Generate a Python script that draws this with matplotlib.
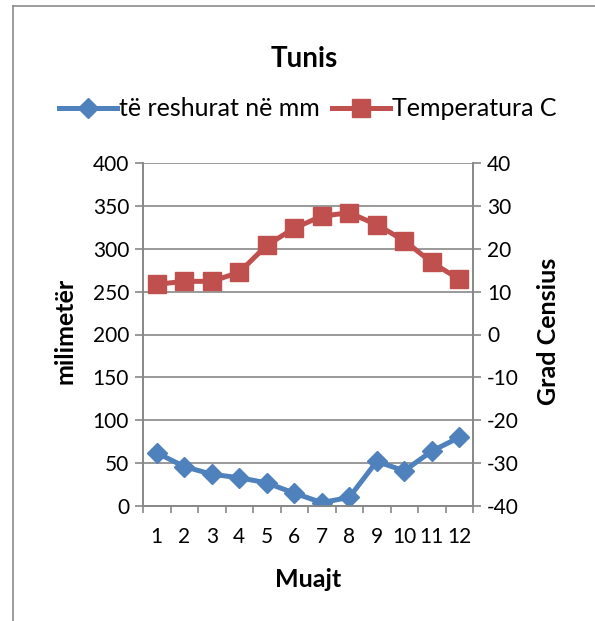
import matplotlib
matplotlib.use("Agg")
import matplotlib.pyplot as plt
from matplotlib.lines import Line2D

plt.rcParams["font.family"] = ["Lato", "DejaVu Sans"]
plt.rcParams["axes.unicode_minus"] = False

months = [str(m) for m in range(1, 13)]
precip_mm = [62, 46, 37, 33, 27, 15, 4, 10, 52, 41, 64, 80]
temp_c = [11.7, 12.4, 12.4, 14.5, 20.8, 24.8, 27.6, 28.4, 25.6, 21.9, 16.8, 12.9]

BLUE = "#4F81BD"
RED = "#C0504D"
GRID = "#888888"
W, H = 595, 621


def fx(px):
    return px / W


def fy(py):
    return 1 - py / H


fig = plt.figure(figsize=(W / 100, H / 100), dpi=100)
ax = fig.add_axes([fx(143), fy(506), 330 / W, 343 / H])
ax2 = ax.twinx()

x = [i + 0.5 for i in range(len(months))]
ax.plot(x, precip_mm, color=BLUE, lw=3.6, marker="D", ms=10.5, zorder=3)
ax2.plot(x, temp_c, color=RED, lw=3.6, marker="s", ms=13.5, zorder=3)

ax.set_xlim(0, 12)
ax.set_ylim(0, 400)
ax.set_yticks(range(0, 401, 50))
ax2.set_ylim(-40, 40)
ax2.set_yticks(range(-40, 41, 10))

ax.set_xticks(range(13))
ax.set_xticklabels([])
ax.set_xticks(x, minor=True)
ax.set_xticklabels(months, minor=True)
ax.tick_params(axis="x", which="minor", length=0, pad=15, labelsize=15)
ax.tick_params(axis="x", which="major", length=5, color=GRID, width=1.2)
ax.tick_params(axis="y", length=6, color=GRID, width=1.2, labelsize=15, pad=4)
ax2.tick_params(axis="y", length=6, color=GRID, width=1.2, labelsize=15, pad=4)

ax.grid(axis="y", color=GRID, lw=1.2)
ax.set_axisbelow(True)
for a in (ax, ax2):
    a.spines["top"].set_visible(False)
    for s in ("left", "right", "bottom"):
        a.spines[s].set_color(GRID)
        a.spines[s].set_linewidth(1.2)

# titles placed at the reference pixel positions
fig.text(fx(304), fy(67), "Tunis", ha="center", va="baseline",
         fontsize=20, fontweight="bold")
fig.text(fx(308), fy(587), "Muajt", ha="center", va="baseline",
         fontsize=18, fontweight="bold")
fig.text(fx(72), fy(331), "milimetër", ha="center", va="baseline",
         rotation=90, rotation_mode="anchor", fontsize=18, fontweight="bold")
fig.text(fx(556), fy(331), "Grad Censius", ha="center", va="baseline",
         rotation=90, rotation_mode="anchor", fontsize=18, fontweight="bold")

handles = [
    Line2D([], [], color=BLUE, lw=3.6, marker="D", ms=10.5),
    Line2D([], [], color=RED, lw=3.6, marker="s", ms=13.5),
]
fig.legend(handles, ["të reshurat në mm", "Temperatura C"], loc="center",
           bbox_to_anchor=(fx(308), fy(109)), ncol=2, frameon=False,
           fontsize=18, handlelength=2.3, handletextpad=0.1, columnspacing=0.5,
           borderpad=0, borderaxespad=0)

# outer chart frame (cut off at right and bottom)
fig.add_artist(Line2D([fx(13), fx(13)], [0, fy(6)],
                      transform=fig.transFigure, color="#8c8c8c", lw=1.2))
fig.add_artist(Line2D([fx(13), 1], [fy(6), fy(6)],
                      transform=fig.transFigure, color="#8c8c8c", lw=1.2))

fig.savefig("out.png", dpi=100)
